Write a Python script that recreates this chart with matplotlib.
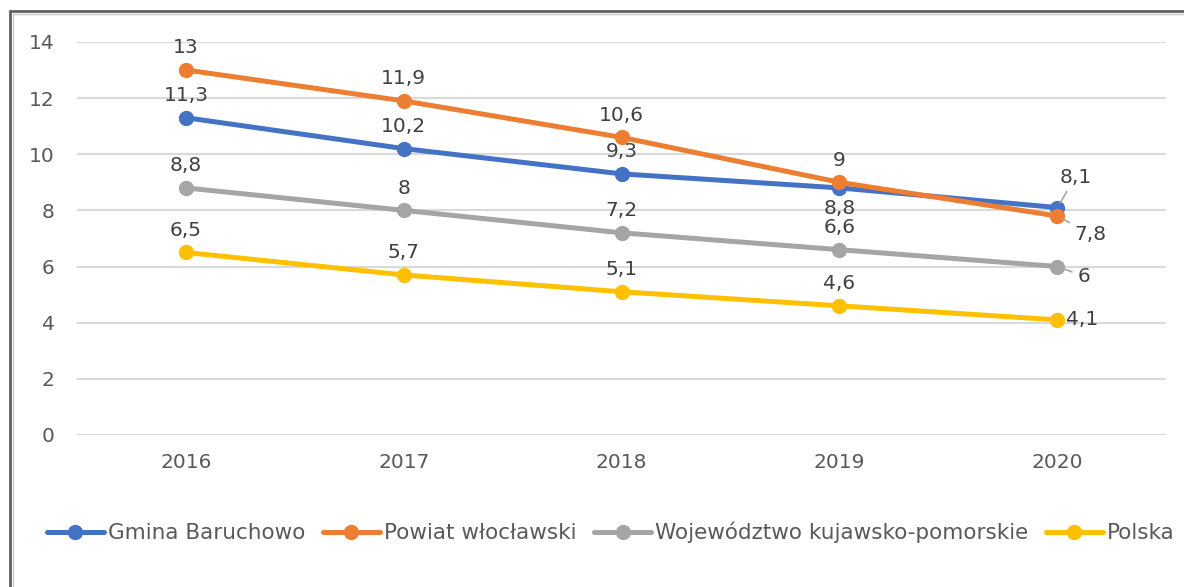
import matplotlib.pyplot as plt
from matplotlib.patches import Rectangle

# dane
lata = ['2016', '2017', '2018', '2019', '2020']
serie = ['Gmina Baruchowo', 'Powiat włocławski',
         'Województwo kujawsko-pomorskie', 'Polska']
gmina = [11.3, 10.2, 9.3, 8.8, 8.1]
powiat = [13, 11.9, 10.6, 9, 7.8]
wojewodztwo = [8.8, 8, 7.2, 6.6, 6]
polska = [6.5, 5.7, 5.1, 4.6, 4.1]

kolory = ['#4472C4', '#ED7D31', '#A5A5A5', '#FFC000']
FS = 14.5

plt.rcParams['font.family'] = ['DejaVu Sans']

fig = plt.figure(figsize=(11.84, 5.87), dpi=100)
ax = fig.add_axes([0.065, 0.259, 0.92, 0.6696])

x = list(range(len(lata)))
wartosci = [gmina, powiat, wojewodztwo, polska]
for nazwa, y, c in zip(serie, wartosci, kolory):
    ax.plot(x, y, color=c, lw=3.6, marker='o', ms=10, label=nazwa,
            solid_capstyle='round', zorder=3)


def fmt(v):
    return f'{v:g}'.replace('.', ',')


# przesunięcia etykiet (punkty): domyślnie nad punktem
przes = {
    (0, 3): (0, -15),
    (0, 4): (13, 22),
    (1, 4): (24, -13),
    (2, 4): (19, -7),
    (3, 4): (18, 0),
}
linie = {(0, 4), (1, 4), (2, 4)}

for si, y in enumerate(wartosci):
    for i, v in enumerate(y):
        dx, dy = przes.get((si, i), (0, 16))
        arrow = None
        if (si, i) in linie:
            arrow = dict(arrowstyle='-', color='#A5A5A5', lw=1.2,
                         shrinkA=2, shrinkB=4)
        ax.annotate(fmt(v), (i, v), xytext=(dx, dy), textcoords='offset points',
                    ha='center', va='center', fontsize=FS, color='#404040',
                    arrowprops=arrow, zorder=4)

ax.set_xlim(-0.5, 4.5)
ax.set_ylim(0, 14)
ax.set_yticks(range(0, 15, 2))
ax.set_xticks(x)
ax.set_xticklabels(lata)
ax.tick_params(axis='both', length=0, labelsize=FS, labelcolor='#595959')
ax.tick_params(axis='y', pad=16)
ax.tick_params(axis='x', pad=13)
ax.grid(axis='y', color='#D9D9D9', lw=1.5)
ax.set_axisbelow(True)
for s in ax.spines.values():
    s.set_visible(False)

leg = fig.legend(loc='center', bbox_to_anchor=(0.516, 0.093), ncol=4,
                 frameon=False, fontsize=15.5, handlelength=2.65,
                 handletextpad=0.2, columnspacing=0.8)
for t in leg.get_texts():
    t.set_color('#595959')

# ramka
fig.patches.append(Rectangle((10 / 1184, -0.1), 1.2, 1 - 11 / 587 + 0.1,
                             transform=fig.transFigure, fill=False,
                             edgecolor='#606060', lw=2))
fig.patches.append(Rectangle((13 / 1184, -0.1), 1.2, 1 - 14 / 587 + 0.1,
                             transform=fig.transFigure, fill=False,
                             edgecolor='#C8C8C8', lw=1))

fig.savefig('out.png', dpi=100)
